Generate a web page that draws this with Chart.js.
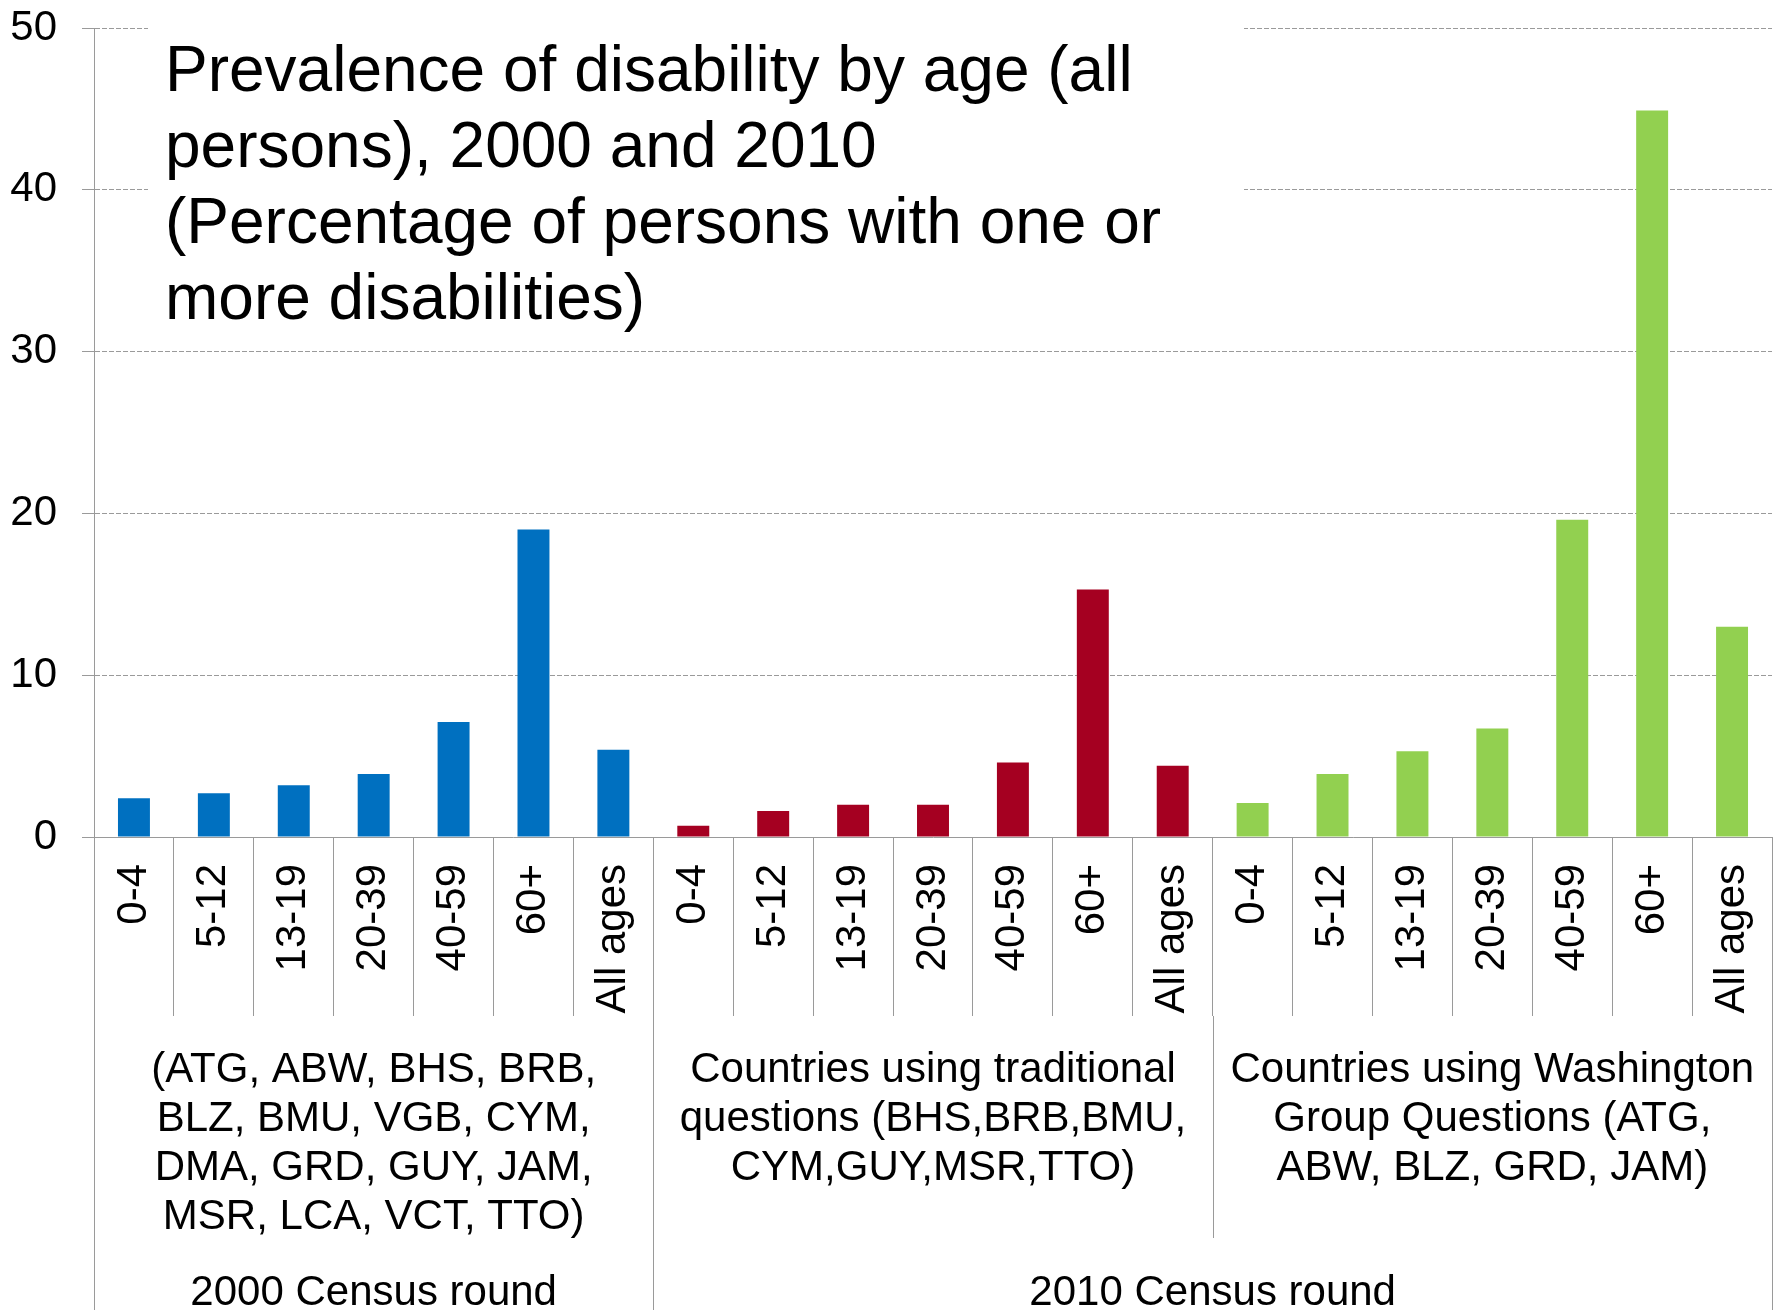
<!DOCTYPE html>
<html>
<head>
<meta charset="utf-8">
<script src="https://cdn.jsdelivr.net/npm/chart.js@4.4.1/dist/chart.umd.min.js"></script>
<style>
  html, body { margin: 0; padding: 0; background: #fff; }
  canvas { display: block; }
</style>
</head>
<body>
<canvas id="disability-chart" width="1781" height="1310"></canvas>
<script>
var ages = ['0-4', '5-12', '13-19', '20-39', '40-59', '60+', 'All ages'];
var census2000 = [2.4, 2.7, 3.2, 3.9, 7.1, 19.0, 5.4];
var traditional2010 = [0.7, 1.6, 2.0, 2.0, 4.6, 15.3, 4.4];
var washington2010 = [2.1, 3.9, 5.3, 6.7, 19.6, 44.9, 13.0];
var yTicks = [0, 10, 20, 30, 40, 50];

var groupLabels = [
    ['(ATG, ABW, BHS, BRB,', 'BLZ, BMU, VGB, CYM,', 'DMA, GRD, GUY, JAM,', 'MSR, LCA, VCT, TTO)'],
    ['Countries using traditional', 'questions (BHS,BRB,BMU,', 'CYM,GUY,MSR,TTO)'],
    ['Countries using Washington', 'Group Questions (ATG,', 'ABW, BLZ, GRD, JAM)']
];
var roundLabels = ['2000 Census round', '2010 Census round'];
var roundGroups = [[0, 1], [1, 3]]; // first group, end group
var titleLines = [
    'Prevalence of disability by age (all',
    'persons), 2000 and 2010',
    '(Percentage of persons with one or',
    'more disabilities)'
];

var font = '"Liberation Sans", Arial, sans-serif';
var lineColor = '#9a9a9a';

// one label per bar, the three groups side by side
var labels = ages.concat(ages, ages);
function place(values, group) {
    var out = labels.map(function () { return null; });
    values.forEach(function (v, i) { out[group * ages.length + i] = v; });
    return out;
}

// title box, group labels and the long separator lines under the axis
var censusLevels = {
    id: 'censusLevels',
    beforeDatasetsDraw: function (chart) {
        var ctx = chart.ctx;
        ctx.save();
        ctx.fillStyle = '#ffffff';
        ctx.fillRect(148, 6, 1096, 338);
        ctx.fillStyle = '#000000';
        ctx.font = '64px ' + font;
        ctx.textAlign = 'left';
        ctx.textBaseline = 'alphabetic';
        titleLines.forEach(function (line, i) {
            ctx.fillText(line, 165, 91 + i * 76);
        });
        ctx.restore();
    },
    afterDraw: function (chart) {
        var ctx = chart.ctx;
        var x = chart.scales.x;
        var n = ages.length;
        var step = x.getPixelForValue(1) - x.getPixelForValue(0);
        var tickEnd = chart.chartArea.bottom + x.options.grid.tickLength;
        function edge(i) { return x.getPixelForValue(0) + (i - 0.5) * step; }
        function vline(px, y1, y2) {
            var xx = Math.round(px) + 0.5;
            ctx.beginPath();
            ctx.moveTo(xx, y1);
            ctx.lineTo(xx, y2);
            ctx.stroke();
        }
        ctx.save();
        ctx.strokeStyle = lineColor;
        ctx.lineWidth = 1;
        vline(edge(0), chart.chartArea.bottom, chart.height);
        for (var g = 1; g <= groupLabels.length; g++) {
            var isRound = roundGroups.some(function (r) { return r[1] === g; });
            vline(edge(g * n), tickEnd, isRound ? chart.height : 1238);
        }
        ctx.fillStyle = '#000000';
        ctx.font = '42px ' + font;
        ctx.textAlign = 'center';
        ctx.textBaseline = 'alphabetic';
        groupLabels.forEach(function (lines, g) {
            var cx = (edge(g * n) + edge((g + 1) * n)) / 2;
            lines.forEach(function (line, i) {
                ctx.fillText(line, cx, 1082 + i * 49);
            });
        });
        roundLabels.forEach(function (label, r) {
            var cx = (edge(roundGroups[r][0] * n) + edge(roundGroups[r][1] * n)) / 2;
            ctx.fillText(label, cx, 1305);
        });
        ctx.restore();
    }
};

function disabilityChart() {
    var ctx = document.getElementById('disability-chart').getContext('2d');
    new Chart(ctx, {
        type: 'bar',
        data: {
            labels: labels,
            datasets: [{
                label: '2000 Census round',
                data: place(census2000, 0),
                backgroundColor: '#0070C0'
            }, {
                label: 'Traditional questions',
                data: place(traditional2010, 1),
                backgroundColor: '#A50021'
            }, {
                label: 'Washington Group Questions',
                data: place(washington2010, 2),
                backgroundColor: '#92D050'
            }]
        },
        options: {
            responsive: false,
            devicePixelRatio: 1,
            animation: false,
            barPercentage: 0.4,
            categoryPercentage: 1.0,
            layout: { padding: { top: 28, right: 9, left: 0, bottom: 0 } },
            plugins: {
                legend: { display: false },
                title: { display: false },
                tooltip: { enabled: false }
            },
            scales: {
                x: {
                    stacked: true,
                    afterFit: function (scale) { scale.height = 473; },
                    grid: {
                        drawOnChartArea: false,
                        drawTicks: true,
                        tickLength: 179,
                        color: lineColor,
                        tickColor: lineColor
                    },
                    border: { color: lineColor, width: 1 },
                    ticks: {
                        autoSkip: false,
                        minRotation: 90,
                        maxRotation: 90,
                        padding: -152,
                        color: '#000000',
                        font: { family: font, size: 42 }
                    }
                },
                y: {
                    stacked: true,
                    min: 0,
                    max: 50,
                    afterFit: function (scale) {
                        scale.width = 94;
                        // the top label may sit in the layout padding
                        scale.paddingTop = 0;
                        scale.paddingBottom = 0;
                    },
                    afterBuildTicks: function (scale) {
                        scale.ticks = yTicks.map(function (v) { return { value: v }; });
                    },
                    grid: {
                        color: lineColor,
                        tickColor: lineColor,
                        tickLength: 12
                    },
                    border: { color: lineColor, width: 1, dash: [5, 2] },
                    ticks: {
                        padding: 25,
                        color: '#000000',
                        font: { family: font, size: 42 }
                    }
                }
            }
        },
        plugins: [censusLevels]
    });
}

disabilityChart();
</script>
</body>
</html>
